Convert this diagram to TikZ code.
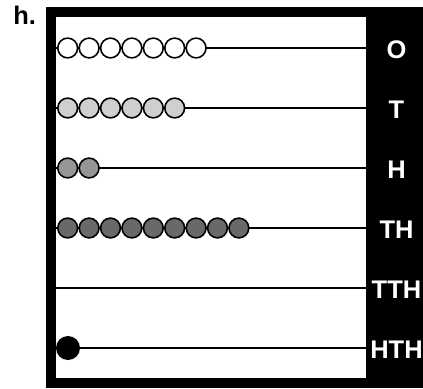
\documentclass[tikz,border=0pt]{standalone}
\usepackage{fontspec}
\setmainfont{Liberation Sans}

\begin{document}
\begin{tikzpicture}[font=\bfseries\fontsize{14.5}{16}\selectfont]
	% --- Escala: x(cm) = 0.02*px, y(cm) = 0.02*(388-px) ---
	\useasboundingbox (0,0) rectangle (8.46,7.76);
	% Marco negro y campo blanco
	\fill[black] (0.92,0) rectangle (8.46,7.62);
	\fill[white] (1.12,0.20) rectangle (7.32,7.42);
	\node[anchor=base west, inner sep=0pt] (tag) at (0.26,7.26) {h.};

	% --- Estilos y colores de las cuentas ---
	\definecolor{bone}{RGB}{255,255,255}
	\definecolor{bsilver}{RGB}{207,207,207}
	\definecolor{bgray}{RGB}{150,150,150}
	\definecolor{bslate}{RGB}{105,105,105}
	\tikzset{bead/.style={draw=black, line width=0.9pt},
		rod/.style={line width=1.1pt},
		rowlabel/.style={text=white, inner sep=0pt}}

	% --- Varillas y etiquetas (cada fila 1.2 cm) ---
	\foreach \y/\name in {6.80/O, 5.60/T, 4.40/H, 3.20/TH, 2.00/TTH, 0.80/HTH} {
		\node[rowlabel] (lbl\name) at (7.93,\y-0.04) {\name};
		\draw[rod] (1.12,\y) -- (7.32,\y);
	}

	% --- Cuentas: n por fila, paso 0.428 ---
	\foreach \n/\y/\c in {7/6.80/bone, 6/5.60/bsilver, 2/4.40/bgray, 9/3.20/bslate}
		\foreach \i in {1,...,\n}
			\filldraw[bead, fill=\c] ({1.354+0.428*(\i-1)},\y) circle (0.198);
	\fill[black] (1.36,0.80) circle (0.24); % HTH
\end{tikzpicture}
\end{document}
